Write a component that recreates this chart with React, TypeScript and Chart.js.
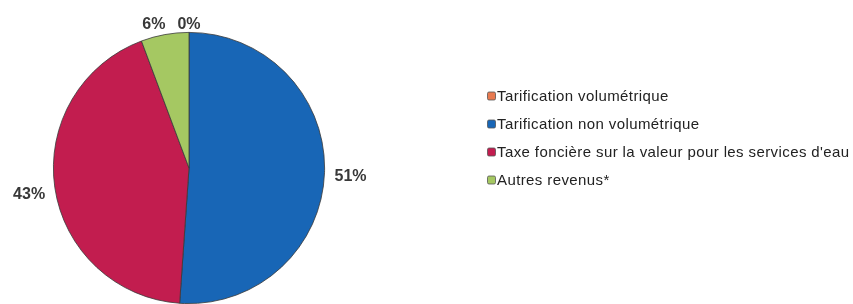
import React, { useEffect, useRef } from "react";
import { Chart, registerables } from "chart.js";

Chart.register(...registerables);

const categories = [
  "Tarification volumétrique",
  "Tarification non volumétrique",
  "Taxe foncière sur la valeur pour les services d'eau",
  "Autres revenus*",
];
const shares = [0, 51.1, 43.2, 5.7];
const colors = ["#e87a50", "#1866b6", "#c21d4f", "#a5c862"];

const FONT = "'Liberation Sans', Arial, Helvetica, sans-serif";

const labelPlugin = {
  id: "outsideLabels",
  afterDatasetsDraw(chart: any) {
    const ctx = chart.ctx;
    const meta = chart.getDatasetMeta(0);
    const data = chart.data.datasets[0].data as number[];
    ctx.save();
    ctx.font = `bold 16px ${FONT}`;
    ctx.fillStyle = "#383838";
    ctx.textAlign = "center";
    ctx.textBaseline = "middle";
    const boxes: any[] = [];
    meta.data.forEach((arc: any, i: number) => {
      const mid = (arc.startAngle + arc.endAngle) / 2;
      const text = Math.round(data[i]) + "%";
      const w = ctx.measureText(text).width;
      const h = 14;
      const s = Math.cos(mid);
      const c = Math.sin(mid);
      const r = arc.outerRadius + 10 + (w / 2) * Math.abs(s) + 1 * Math.abs(c);
      const x = arc.x + r * s;
      const y = arc.y + r * c + 3;
      boxes.push({ x, y, w, h, text });
    });
    for (let i = 0; i < boxes.length; i++) {
      for (let j = 0; j < i; j++) {
        const a = boxes[j];
        const b = boxes[i];
        const overlapX = (a.w + b.w) / 2 + 12 - Math.abs(a.x - b.x);
        const overlapY = (a.h + b.h) / 2 - Math.abs(a.y - b.y);
        if (overlapX > 0 && overlapY > 0) {
          b.x += b.x < a.x ? -overlapX : overlapX;
        }
      }
    }
    boxes.forEach((b) => ctx.fillText(b.text, b.x, b.y));
    ctx.restore();
  },
};

const legendPlugin = {
  id: "customLegend",
  afterDraw(chart: any) {
    const ctx = chart.ctx;
    ctx.save();
    ctx.font = `15px ${FONT}`;
    (ctx as any).letterSpacing = "0.4px";
    ctx.textBaseline = "middle";
    const x0 = 487;
    const y0 = 96;
    const step = 28;
    categories.forEach((label, i) => {
      const y = y0 + i * step;
      ctx.fillStyle = colors[i];
      ctx.beginPath();
      (ctx as any).roundRect(x0 + 0.5, y - 4, 8, 8, 1.5);
      ctx.fill();
      ctx.strokeStyle = "#555";
      ctx.lineWidth = 0.8;
      ctx.stroke();
      ctx.fillStyle = "#222222";
      ctx.fillText(label, x0 + 10, y + 1);
    });
    ctx.restore();
  },
};

export default function App() {
  const ref = useRef<HTMLCanvasElement>(null);
  useEffect(() => {
    if (!ref.current) return;
    const chart = new Chart(ref.current, {
      type: "pie",
      data: {
        labels: categories,
        datasets: [
          {
            data: shares,
            backgroundColor: colors,
            borderColor: "#3a3a3a",
            borderWidth: 0.8,
          },
        ],
      },
      options: {
        animation: false,
        responsive: false,
        maintainAspectRatio: false,
        layout: { padding: { left: 52, right: 527, top: 32, bottom: 0 } },
        plugins: {
          legend: { display: false },
          tooltip: { enabled: false },
        },
      },
      plugins: [labelPlugin, legendPlugin],
    });
    return () => chart.destroy();
  }, []);
  return (
    <div style={{ position: "fixed", left: 0, top: 0, width: 853, height: 304, background: "#fff" }}>
      <canvas ref={ref} width={853} height={304} style={{ width: 853, height: 304 }} />
    </div>
  );
}
